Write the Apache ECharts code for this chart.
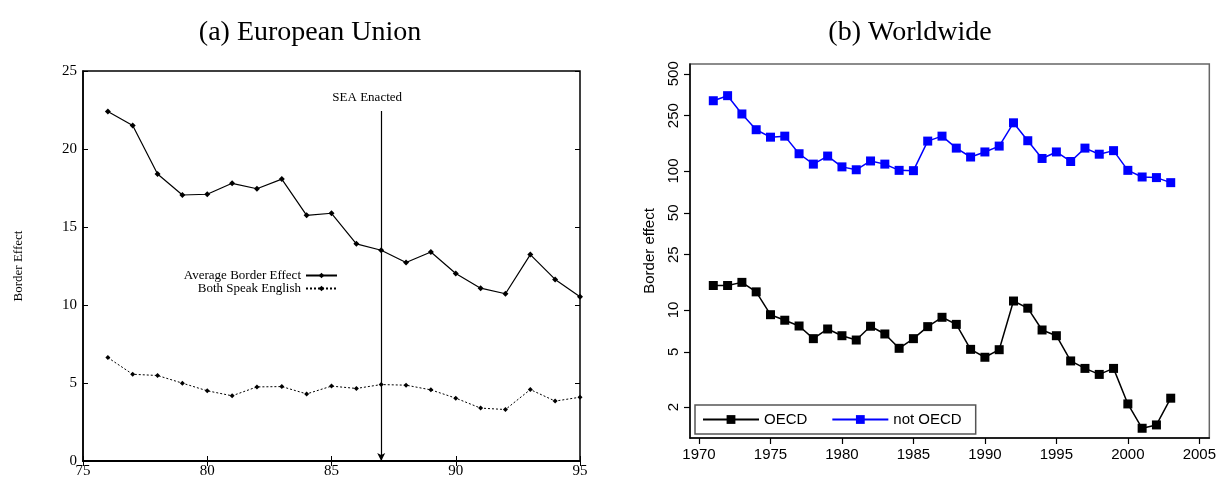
<!DOCTYPE html>
<html><head><meta charset="utf-8">
<script src="https://cdn.jsdelivr.net/npm/echarts@6/dist/echarts.min.js"></script>
<style>html,body{margin:0;padding:0;background:#fff}#c{width:1219px;height:479px}</style>
</head><body><div id="c"></div>
<script>
// Panel (a) European Union
const euYears = [76,77,78,79,80,81,82,83,84,85,86,87,88,89,90,91,92,93,94,95];
const euAverage = [22.4,21.5,18.4,17.05,17.1,17.8,17.45,18.07,15.75,15.88,13.92,13.51,12.72,13.4,12.02,11.08,10.72,13.23,11.64,10.53];
const euEnglish = [6.63,5.56,5.48,4.99,4.5,4.18,4.75,4.77,4.3,4.8,4.65,4.9,4.86,4.56,4.03,3.39,3.3,4.58,3.84,4.09];
const seaYear = 87;
const seaTop = 22.44;
// Panel (b) Worldwide
const wwYears = [1971,1972,1973,1974,1975,1976,1977,1978,1979,1980,1981,1982,1983,1984,1985,1986,1987,1988,1989,1990,1991,1992,1993,1994,1995,1996,1997,1998,1999,2000,2001,2002,2003];
const oecd = [15,15,15.8,13.5,9.25,8.44,7.67,6.22,7.3,6.53,6.08,7.64,6.72,5.3,6.22,7.59,8.86,7.88,5.21,4.57,5.18,11.6,10.3,7.18,6.53,4.3,3.8,3.44,3.8,2.11,1.41,1.49,2.32];
const notOecd = [320,348,257,198,175,178,133,112,128,107,102,118,112,101,100.5,164,178,146,126,137,151,222,165,123,137,117,146,132,140,101,90.5,89.6,82.4];
const wwYTicks = [2,5,10,25,50,100,250,500];
const wwXTicks = [1970,1975,1980,1985,1990,1995,2000,2005];

const serif = 'Liberation Serif';
const sans = 'Liberation Sans';
const zip = (xs, ys) => xs.map((x, i) => [x, ys[i]]);

const chart = echarts.init(document.getElementById('c'), null, {renderer: 'canvas'});
chart.setOption({
  animation: false,
  title: [
    {text: '(a) European Union', left: 305, top: 14, textAlign: 'center',
     textStyle: {fontFamily: serif, fontSize: 28, fontWeight: 'normal', color: '#000'}},
    {text: '(b) Worldwide', left: 905, top: 14, textAlign: 'center',
     textStyle: {fontFamily: serif, fontSize: 28, fontWeight: 'normal', color: '#000'}}
  ],
  legend: [
    {data: ['Average Border Effect', 'Both Speak English'], orient: 'vertical', align: 'right',
     right: 1219 - 338, top: 269, itemWidth: 31, itemHeight: 7, itemGap: 0,
     textStyle: {fontFamily: serif, fontSize: 13, color: '#000'}, padding: 0},
    {data: ['OECD', 'not OECD'], orient: 'horizontal', left: 695, top: 405,
     itemWidth: 56, itemHeight: 11, itemGap: 24,
     borderColor: '#555', borderWidth: 1.5, backgroundColor: '#fff', padding: [7, 14, 7, 7],
     textStyle: {fontFamily: sans, fontSize: 15, color: '#000'}}
  ],
  grid: [
    {left: 83, right: 1219 - 580, top: 71, bottom: 479 - 462, show: true, borderColor: '#000', borderWidth: 1.5, backgroundColor: 'transparent'},
    {left: 690, right: 1219 - 1212, top: 64, bottom: 479 - 438, show: true, borderColor: '#666', borderWidth: 1.5, backgroundColor: 'transparent'}
  ],
  xAxis: [
    {gridIndex: 0, type: 'value', min: 75, max: 95, interval: 5,
     axisLine: {lineStyle: {color: '#000', width: 2}}, axisTick: {inside: true, length: 5, lineStyle: {color: '#000'}},
     axisLabel: {fontFamily: serif, fontSize: 15, color: '#000', margin: 3}, splitLine: {show: false}},
    {gridIndex: 0, type: 'value', position: 'top', min: 75, max: 95, interval: 5,
     axisLine: {show: false}, axisTick: {inside: true, length: 5, lineStyle: {color: '#000'}},
     axisLabel: {show: false}, splitLine: {show: false}},
    {gridIndex: 1, type: 'value', min: 1969.37, max: 2005.7,
     axisLine: {lineStyle: {color: '#000', width: 1.5}},
     axisTick: {length: 6, lineStyle: {color: '#000', width: 1.2}, customValues: wwXTicks},
     axisLabel: {fontFamily: sans, fontSize: 15, color: '#000', margin: 9, customValues: wwXTicks,
                 formatter: v => String(Math.round(v))},
     splitLine: {show: false}}
  ],
  yAxis: [
    {gridIndex: 0, type: 'value', min: 0, max: 25, interval: 5,
     name: 'Border Effect', nameLocation: 'middle', nameGap: 58, nameRotate: 90,
     nameTextStyle: {fontFamily: serif, fontSize: 13, color: '#000'},
     axisLine: {lineStyle: {color: '#000', width: 1.5}}, axisTick: {inside: true, length: 5, lineStyle: {color: '#000'}},
     axisLabel: {fontFamily: serif, fontSize: 15, color: '#000', margin: 6}, splitLine: {show: false}},
    {gridIndex: 0, type: 'value', position: 'right', min: 0, max: 25, interval: 5,
     axisLine: {show: false}, axisTick: {inside: true, length: 5, lineStyle: {color: '#000'}},
     axisLabel: {show: false}, splitLine: {show: false}},
    {gridIndex: 1, type: 'log', min: 1.2, max: 588,
     name: 'Border effect', nameLocation: 'middle', nameGap: 33, nameRotate: 90,
     nameTextStyle: {fontFamily: sans, fontSize: 15, color: '#000'},
     axisLine: {lineStyle: {color: '#000', width: 1.5}},
     axisTick: {length: 6, lineStyle: {color: '#000', width: 1.2}, customValues: wwYTicks},
     axisLabel: {fontFamily: sans, fontSize: 15, color: '#000', margin: 9, rotate: 90, customValues: wwYTicks},
     splitLine: {show: false}, minorTick: {show: false}}
  ],
  series: [
    {name: 'Average Border Effect', type: 'line', xAxisIndex: 0, yAxisIndex: 0,
     data: zip(euYears, euAverage), symbol: 'diamond', symbolSize: 6,
     lineStyle: {color: '#000', width: 1.2}, itemStyle: {color: '#000'},
     markLine: {silent: true, symbol: ['none', 'arrow'], symbolSize: [6, 8], animation: false,
       lineStyle: {color: '#000', width: 1.2, type: 'solid'},
       label: {show: true, position: 'start', formatter: 'SEA Enacted', fontFamily: serif, fontSize: 13, color: '#000', offset: [-14, -2]},
       data: [[{coord: [seaYear, seaTop]}, {coord: [seaYear, 0]}]]}},
    {name: 'Both Speak English', type: 'line', xAxisIndex: 0, yAxisIndex: 0,
     data: zip(euYears, euEnglish), symbol: 'diamond', symbolSize: 5,
     lineStyle: {color: '#000', width: 1, type: [2, 2]}, itemStyle: {color: '#000'}},
    {name: 'OECD', type: 'line', xAxisIndex: 2, yAxisIndex: 2,
     data: zip(wwYears, oecd), symbol: 'rect', symbolSize: 9,
     lineStyle: {color: '#000', width: 1.5}, itemStyle: {color: '#000'}},
    {name: 'not OECD', type: 'line', xAxisIndex: 2, yAxisIndex: 2,
     data: zip(wwYears, notOecd), symbol: 'rect', symbolSize: 9,
     lineStyle: {color: '#0000ff', width: 1.5}, itemStyle: {color: '#0000ff'}}
  ]
});
</script></body></html>
